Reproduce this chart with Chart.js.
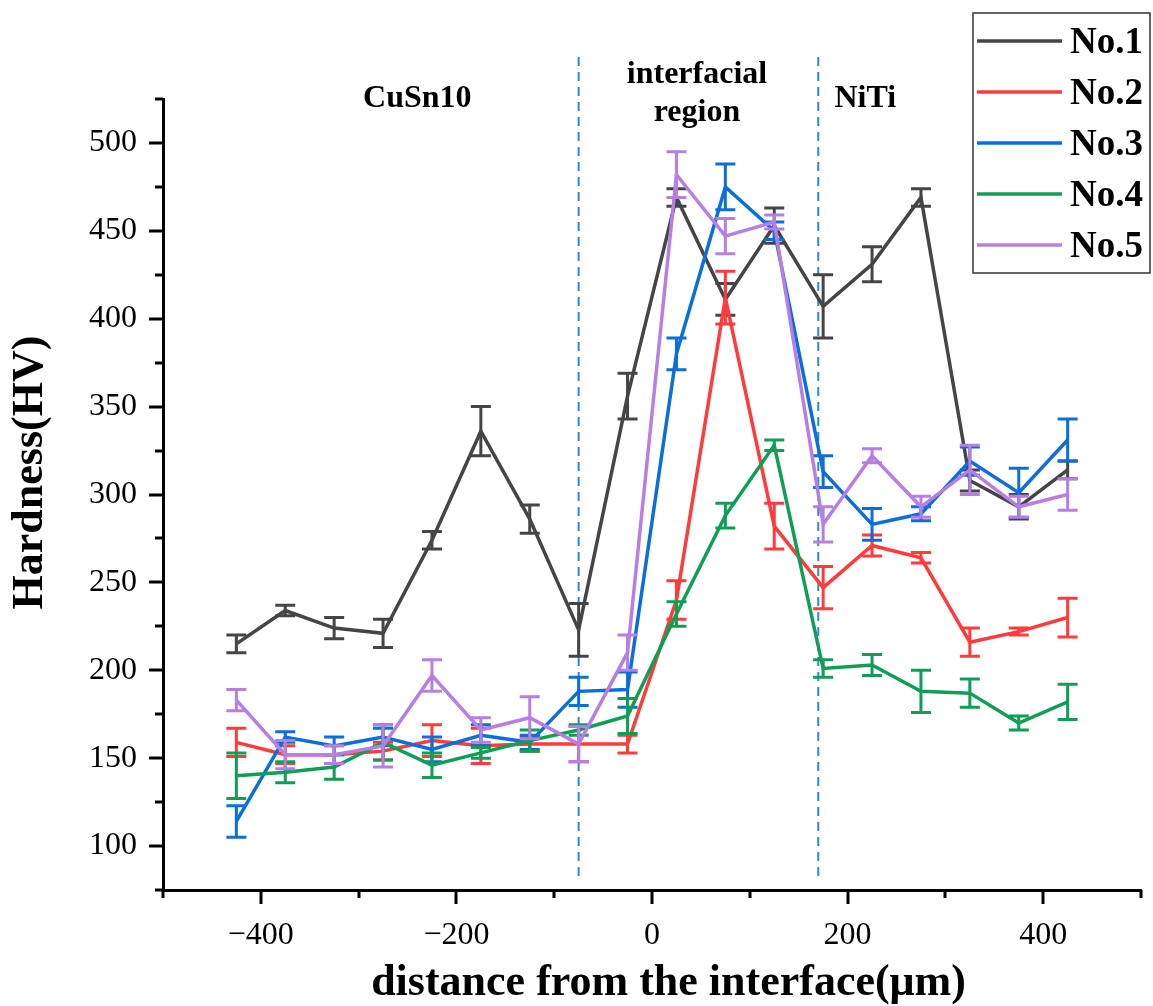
<!DOCTYPE html>
<html>
<head>
<meta charset="utf-8">
<script src="https://cdn.jsdelivr.net/npm/chart.js@4.4.1/dist/chart.umd.min.js"></script>
<style>
  html, body { margin: 0; padding: 0; background: #fff; }
  #wrap { width: 1153px; height: 1006px; }
</style>
</head>
<body>
<div id="wrap"><canvas id="hardness" width="1153" height="1006"></canvas></div>
<script>
// measuring positions (um from the interface)
const distances = [-425, -375, -325, -275, -225, -175, -125, -75, -25, 25, 75, 125, 175, 225, 275, 325, 375, 425];

// mean hardness (HV) and error of each sample
const no1 = [215, 234, 224, 221, 274, 336, 286, 223, 356, 469, 411, 453, 407, 431, 469, 308, 293, 314];
const no1Err = [5, 3, 6, 8, 5, 14, 8, 15, 13, 5, 9, 10, 18, 10, 5, 6, 7, 5];
const no2 = [159, 152, 152, 154, 160, 157, 158, 158, 158, 240, 412, 282, 247, 271, 264, 216, 222, 230];
const no2Err = [8, 5, 5, 5, 9, 10, 4, 10, 5, 11, 15, 13, 12, 6, 3, 8, 2, 11];
const no3 = [114, 162, 157, 162, 155, 163, 159, 188, 189, 380, 475, 450, 313, 283, 289, 319, 301, 331];
const no3Err = [9, 3, 5, 5, 7, 6, 4, 8, 10, 9, 13, 5, 9, 9, 4, 8, 14, 12];
const no4 = [140, 142, 145, 159, 146, 153, 160, 166, 174, 232, 288, 328, 201, 203, 188, 187, 170, 182];
const no4Err = [13, 6, 7, 10, 7, 3, 6, 3, 10, 7, 7, 3, 5, 6, 12, 8, 4, 10];
const no5 = [183, 152, 152, 157, 197, 166, 173, 158, 210, 482, 447, 455, 283, 322, 293, 314, 293, 300];
const no5Err = [6, 8, 5, 12, 9, 7, 12, 10, 10, 13, 10, 4, 10, 4, 6, 14, 6, 9];

const seriesNames = ['No.1', 'No.2', 'No.3', 'No.4', 'No.5'];
const seriesColors = ['#454545', '#ff3b3b', '#0a6fdc', '#0f9e55', '#b77ee3'];

// zone boundaries and zone names
const boundaries = [-75, 170];
const regionNames = [['CuSn10'], ['interfacial', 'region'], ['NiTi']];
const regionCenters = [-240, 46, 218];

// labelled (major) and unlabelled (minor) ticks
const xTickLabels = [-400, -200, 0, 200, 400];
const xMinorTicks = [-500, -300, -100, 100, 300, 500];
const yTickLabels = [100, 150, 200, 250, 300, 350, 400, 450, 500];
const yMinorTicks = [75, 125, 175, 225, 275, 325, 375, 425, 475, 525];

const serif = "'Liberation Serif', 'Times New Roman', serif";
Chart.defaults.font.family = serif;
Chart.defaults.color = '#000';

const means = [no1, no2, no3, no4, no5];
const errs = [no1Err, no2Err, no3Err, no4Err, no5Err];

const datasets = means.map((vals, k) => ({
    label: seriesNames[k],
    data: vals.map((v, i) => ({ x: distances[i], y: v })),
    errors: errs[k],
    borderColor: seriesColors[k],
    backgroundColor: seriesColors[k],
    borderWidth: 3.5,
    pointRadius: 0,
    tension: 0,
    fill: false,
    order: 5 - k
}));

// vertical error bars, drawn right after each line so layering matches
const errorBars = {
    id: 'errorBars',
    afterDatasetDraw(chart, args) {
        const ds = chart.data.datasets[args.index];
        const xs = chart.scales.x, ys = chart.scales.y;
        const ctx = chart.ctx;
        ctx.save();
        ctx.strokeStyle = ds.borderColor;
        ctx.lineWidth = 3;
        ds.data.forEach((p, i) => {
            const px = xs.getPixelForValue(p.x);
            const top = ys.getPixelForValue(p.y + ds.errors[i]);
            const bot = ys.getPixelForValue(p.y - ds.errors[i]);
            ctx.beginPath();
            ctx.moveTo(px, top); ctx.lineTo(px, bot);
            ctx.moveTo(px - 10, top); ctx.lineTo(px + 10, top);
            ctx.moveTo(px - 10, bot); ctx.lineTo(px + 10, bot);
            ctx.stroke();
        });
        ctx.restore();
    }
};

function segment(ctx, x1, y1, x2, y2) {
    ctx.beginPath();
    ctx.moveTo(x1, y1);
    ctx.lineTo(x2, y2);
    ctx.stroke();
}

const decorations = {
    id: 'decorations',
    beforeDatasetsDraw(chart) {
        const ctx = chart.ctx, area = chart.chartArea;
        ctx.save();
        ctx.strokeStyle = '#2a8bd2';
        ctx.lineWidth = 2;
        ctx.setLineDash([9, 6]);
        boundaries.forEach(b => {
            const px = chart.scales.x.getPixelForValue(b);
            segment(ctx, px, area.top - 42, px, area.bottom - 14);
        });
        ctx.restore();
    },
    afterDraw(chart) {
        const ctx = chart.ctx, area = chart.chartArea;
        const xs = chart.scales.x, ys = chart.scales.y;
        ctx.save();
        ctx.setLineDash([]);
        // ticks pointing outwards
        ctx.fillStyle = '#000';
        xTickLabels.forEach(v => ctx.fillRect(Math.round(xs.getPixelForValue(v)) - 1.5, area.bottom, 3, 14));
        yTickLabels.forEach(v => ctx.fillRect(area.left - 14, Math.round(ys.getPixelForValue(v)) - 1.5, 14, 3));
        xMinorTicks.forEach(v => ctx.fillRect(Math.round(xs.getPixelForValue(v)) - 1.5, area.bottom, 3, 8));
        yMinorTicks.forEach(v => ctx.fillRect(area.left - 8, Math.round(ys.getPixelForValue(v)) - 1.5, 8, 3));

        // zone names
        ctx.font = 'bold 32px ' + serif;
        ctx.textAlign = 'center';
        ctx.textBaseline = 'middle';
        regionNames.forEach((lines, k) => {
            const px = xs.getPixelForValue(regionCenters[k]);
            const y0 = lines.length > 1 ? area.top - 24 : area.top;
            lines.forEach((s, j) => ctx.fillText(s, px, y0 + j * 38));
        });

        // legend box
        const L = 973, T = 13, R = 1150, B = 273;
        ctx.fillStyle = '#fff';
        ctx.fillRect(L, T, R - L, B - T);
        ctx.strokeStyle = '#333';
        ctx.lineWidth = 1.5;
        ctx.strokeRect(L, T, R - L, B - T);
        ctx.font = 'bold 37px ' + serif;
        ctx.textAlign = 'left';
        chart.data.datasets.forEach((ds, k) => {
            const ly = T + 28 + k * 51;
            ctx.strokeStyle = ds.borderColor;
            ctx.lineWidth = 3.5;
            segment(ctx, L + 4, ly, L + 89, ly);
            ctx.fillStyle = '#000';
            ctx.fillText(ds.label, L + 97, ly + 2);
        });
        ctx.restore();
    }
};

const ctx = document.getElementById('hardness').getContext('2d');
const hardnessChart = new Chart(ctx, {
    type: 'line',
    data: { datasets: datasets },
    options: {
        responsive: false,
        animation: false,
        devicePixelRatio: 1,
        layout: { padding: { top: 99, right: 9, left: 0, bottom: 0 } },
        plugins: {
            legend: { display: false },
            tooltip: { enabled: false }
        },
        scales: {
            x: {
                type: 'linear',
                min: -500,
                max: 500,
                afterFit(scale) { scale.height = 116; },
                border: { color: '#000', width: 3 },
                grid: {
                    drawOnChartArea: false,
                    tickLength: 14,
                    color: 'rgba(0,0,0,0)'
                },
                ticks: {
                    stepSize: 100,
                    padding: 12,
                    maxRotation: 0,
                    autoSkip: false,
                    font: { size: 32 },
                    callback: v => xTickLabels.includes(v) ? (v < 0 ? '\u2212' + Math.abs(v) : String(v)) : ''
                },
                title: {
                    display: true,
                    text: '   distance from the interface(\u03bcm)',
                    font: { size: 44, weight: 'bold', lineHeight: 1 },
                    padding: { top: 0, bottom: 0 }
                }
            },
            y: {
                min: 75,
                max: 525,
                afterFit(scale) { scale.width = 163; },
                border: { color: '#000', width: 3 },
                grid: {
                    drawOnChartArea: false,
                    tickLength: 14,
                    color: 'rgba(0,0,0,0)'
                },
                ticks: {
                    stepSize: 25,
                    padding: 12,
                    autoSkip: false,
                    font: { size: 32 },
                    callback: v => yTickLabels.includes(v) ? String(v) : ''
                },
                title: {
                    display: true,
                    text: '    Hardness(HV)',
                    font: { size: 44, weight: 'bold', lineHeight: 1 },
                    padding: { top: 9, bottom: 0 }
                }
            }
        }
    },
    plugins: [errorBars, decorations]
});
</script>
</body>
</html>
